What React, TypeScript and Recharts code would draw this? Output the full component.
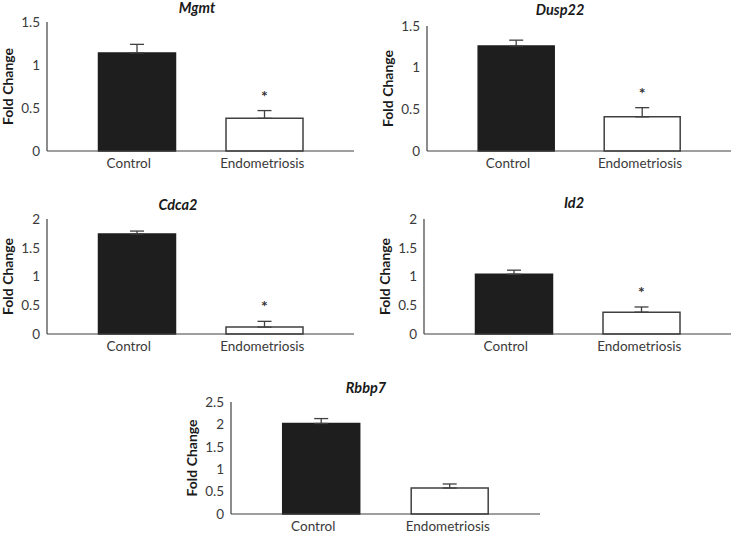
import { Bar, BarChart, Cell, ErrorBar, LabelList, XAxis, YAxis } from 'recharts'

const categories = ['Control', 'Endometriosis']
const barFills = ['#1e1e1e', '#ffffff']
const barStrokes = ['#1e1e1e', '#404040']
// category labels in the original sit slightly left of the bar centres
const labelShift = [-8, -2]

// mean fold change and upper error (SEM) per gene
const mgmtMean = [1.14, 0.38]
const mgmtErr = [0.1, 0.09]
const dusp22Mean = [1.26, 0.41]
const dusp22Err = [0.07, 0.11]
const cdca2Mean = [1.74, 0.12]
const cdca2Err = [0.05, 0.1]
const id2Mean = [1.04, 0.38]
const id2Err = [0.07, 0.09]
const rbbp7Mean = [2.02, 0.58]
const rbbp7Err = [0.11, 0.09]

const sigMarks = ['', '*']
const noMarks = ['', '']

const ticks15 = [0, 0.5, 1, 1.5]
const ticks20 = [0, 0.5, 1, 1.5, 2]
const ticks25 = [0, 0.5, 1, 1.5, 2, 2.5]

const FONT = 'Lato, "Open Sans", sans-serif'
const LINE = '#404040'
const TEXT = '#3a3a3a'

type PanelProps = {
	title: string
	mean: number[]
	err: number[]
	marks: string[]
	ticks: number[]
	plotX: number
	plotY: number
	plotW: number
	plotH: number
	titleX: number
	titleY: number
}

const CategoryTick = (props: any) => {
	const { x, y, payload, index } = props
	const i = typeof index === 'number' ? index : categories.indexOf(payload.value)
	return (
		<text x={x + (labelShift[i] ?? 0)} y={y} dy={17} textAnchor='middle' fontSize={13.5} fontFamily={FONT} fill={TEXT}>
			{payload.value}
		</text>
	)
}

const Panel = (p: PanelProps) => {
	const data = categories.map((name, i) => ({
		name,
		value: p.mean[i],
		err: [0, p.err[i]],
		mark: p.marks[i],
	}))
	const yMax = p.ticks[p.ticks.length - 1]
	const axisW = 47
	const left = 10
	const top = 10
	const bottomH = 30

	const renderMark = (props: any) => {
		const { value } = props
		if (!value) return null
		const idx = props.index ?? 1
		const vb = props.viewBox ?? props
		const x = Number(vb.x)
		const y = Number(vb.y)
		const w = Number(vb.width)
		const h = Number(vb.height)
		const errTop = y - (p.err[idx] * h) / p.mean[idx]
		return (
			<text x={x + w / 2} y={errTop - 9} textAnchor='middle' fontSize={16} fontWeight='bold' fontFamily={FONT} fill='#333'>
				{value}
			</text>
		)
	}

	return (
		<>
			<div
				style={{
					position: 'absolute',
					left: p.titleX,
					top: p.titleY - 8,
					transform: 'translateX(-50%)',
					font: `italic bold 14.5px ${FONT}`,
					lineHeight: '16px',
					color: '#1a1a1a',
					whiteSpace: 'nowrap',
				}}
			>
				{p.title}
			</div>
			<div style={{ position: 'absolute', left: p.plotX - axisW - left, top: p.plotY - top }}>
				<BarChart
					width={p.plotW + axisW + left + 1}
					height={p.plotH + top + bottomH}
					data={data}
					margin={{ top, right: 1, bottom: 0, left }}
					barCategoryGap='20%'
				>
					<XAxis
						dataKey='name'
						height={bottomH}
						padding={{ left: 26, right: 26 }}
						tickSize={0}
						tickMargin={0}
						tickLine={false}
						axisLine={{ stroke: LINE, strokeWidth: 1.2 }}
						tick={<CategoryTick />}
					/>
					<XAxis
						xAxisId='top'
						orientation='top'
						dataKey='name'
						height={0}
						tick={false}
						tickLine={false}
						axisLine={{ stroke: LINE, strokeWidth: 1.2 }}
					/>
					<YAxis
						width={axisW}
						domain={[0, yMax]}
						ticks={p.ticks}
						tickSize={0}
						tickMargin={7}
						tickLine={false}
						axisLine={{ stroke: LINE, strokeWidth: 1.2 }}
						tick={{ fill: TEXT, fontSize: 13.5, fontFamily: FONT }}
						label={{
							value: 'Fold Change',
							angle: -90,
							position: 'insideLeft',
							offset: 8,
							style: { textAnchor: 'middle', fontWeight: 'bold', fontSize: 14, fontFamily: FONT, fill: '#1a1a1a' },
						}}
					/>
					<YAxis
						yAxisId='right'
						orientation='right'
						width={0}
						domain={[0, yMax]}
						tick={false}
						tickLine={false}
						axisLine={{ stroke: LINE, strokeWidth: 1.2 }}
					/>
					<Bar dataKey='value' isAnimationActive={false} strokeWidth={1.5}>
						{data.map((d, i) => (
							<Cell key={d.name} fill={barFills[i]} stroke={barStrokes[i]} />
						))}
						<ErrorBar dataKey='err' direction='y' width={7} stroke={LINE} strokeWidth={1.3} />
						<LabelList dataKey='mark' content={renderMark} />
					</Bar>
				</BarChart>
			</div>
		</>
	)
}

const App = () => {
	return (
		<div style={{ position: 'absolute', left: 0, top: 0, width: 732, height: 533, overflow: 'hidden', background: '#fff', fontFamily: FONT }}>
			<Panel title='Mgmt' mean={mgmtMean} err={mgmtErr} marks={sigMarks} ticks={ticks15} plotX={47} plotY={22} plotW={307} plotH={129} titleX={197} titleY={8} />
			<Panel title='Dusp22' mean={dusp22Mean} err={dusp22Err} marks={sigMarks} ticks={ticks15} plotX={427} plotY={26} plotW={304} plotH={125} titleX={560} titleY={10} />
			<Panel title='Cdca2' mean={cdca2Mean} err={cdca2Err} marks={sigMarks} ticks={ticks20} plotX={47} plotY={219} plotW={307} plotH={115} titleX={178} titleY={205} />
			<Panel title='Id2' mean={id2Mean} err={id2Err} marks={sigMarks} ticks={ticks20} plotX={424} plotY={219} plotW={307} plotH={115} titleX={574} titleY={203} />
			<Panel title='Rbbp7' mean={rbbp7Mean} err={rbbp7Err} marks={noMarks} ticks={ticks25} plotX={231} plotY={402} plotW={309} plotH={112} titleX={366} titleY={388} />
		</div>
	)
}

export default App
